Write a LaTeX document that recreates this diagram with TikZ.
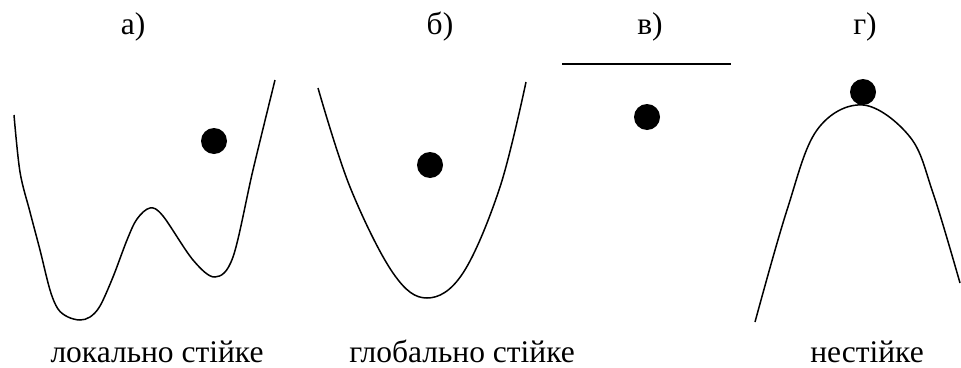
\documentclass[tikz,border=0pt]{standalone}
\usepackage{fontspec}
\setmainfont{Liberation Serif}
\usetikzlibrary{positioning}
\tikzset{
  ball/.style={circle, fill=black, minimum size=26pt, inner sep=0pt},
  curve/.style={line width=1.5pt, black},
  lbl/.style={font=\fontsize{31.5}{36}\selectfont, text=black, anchor=base, inner sep=0pt, text depth=0pt}
}
\begin{document}
\begin{tikzpicture}[x=1pt, y=-1pt]
    \useasboundingbox (0,0) rectangle (961,367);
    % letters
    \foreach \name/\x/\t in {la/133/а), lb/440/б), lc/650/в), ld/865/г)} {
      \node[lbl] (\name) at (\x,34) {\t};
    }
    % a) two wells
    \draw[curve] plot[smooth, tension=0.55] coordinates {(14,115) (20,172) (30,212) (40,250) (50,290) (58,309) (68,317) (80,320) (90,317) (100,306) (113,277) (127,240) (137,219) (150,208) (163,216) (193,260) (215,277) (233,257) (253,170) (275,80)};
    \node[ball] (ba) at (214,141) {};
    % b) parabola
    \draw[curve] plot[smooth, tension=0.6] coordinates {(318,88) (350,187) (393,273) (427,298) (463,273) (500,187) (526,82)};
    \node[ball] (bb) at (430,165) {};
    % c) flat
    \draw[line width=2.2pt] (562,64) -- (731,64);
    \node[ball] (bc) at (647,117) {};
    % d) hill
    \draw[curve] plot[smooth, tension=0.6] coordinates {(755,322) (787,210) (817,130) (863,105) (910,137) (933,193) (960,283)};
    \node[ball] (bd) at (863,92) {};
    % captions
    \node[lbl] (ca) at (157,362) {локально стійке};
    \node[lbl] (cb) at (462,362) {глобально стійке};
    \node[lbl] (cd) at (867,362) {нестійке};
  \end{tikzpicture}
\end{document}
